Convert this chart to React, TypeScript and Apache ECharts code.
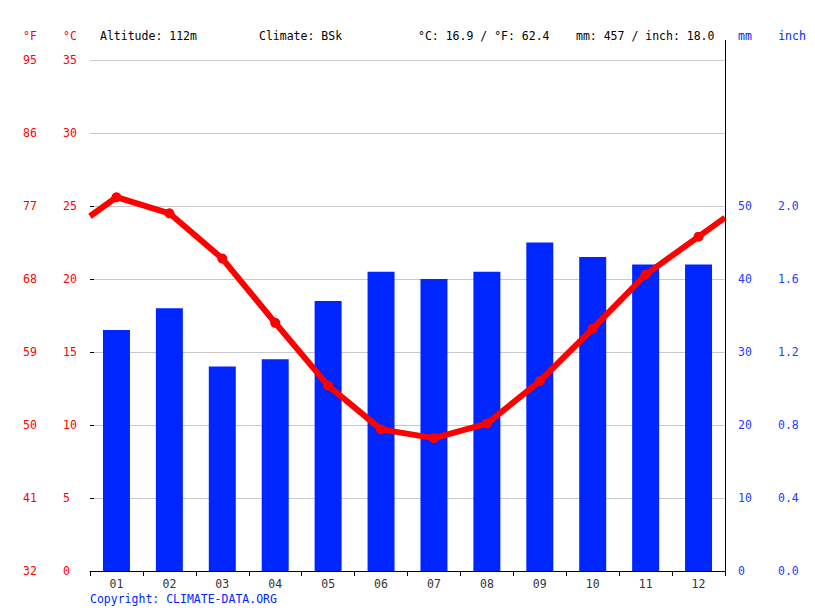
import React, { useEffect, useRef } from "react";
import * as echarts from "echarts";

const months = ["01", "02", "03", "04", "05", "06", "07", "08", "09", "10", "11", "12"];
const tempC = [25.6, 24.5, 21.4, 17.0, 12.7, 9.7, 9.1, 10.1, 13.0, 16.6, 20.3, 22.9];
const precipMm = [33, 36, 28, 29, 37, 41, 40, 41, 45, 43, 42, 42];
const edgeTempStart = 24.3;
const edgeTempEnd = 24.2;
const headerTexts = [
  { text: "Altitude: 112m", x: 100 },
  { text: "Climate: BSk", x: 259 },
  { text: "°C: 16.9 / °F: 62.4", x: 418 },
  { text: "mm: 457 / inch: 18.0", x: 576 },
];

const FONT = "'DejaVu Sans Mono', 'Liberation Mono', monospace";
const RED = "#ff0000";
const BLUE = "#0026ff";
const LBLUE = "#2040ff";

export default function App() {
  const ref = useRef<HTMLDivElement>(null);
  useEffect(() => {
    if (!ref.current) return;
    const chart = echarts.init(ref.current, undefined, { renderer: "svg" });
    const lineData: any[] = [{ value: [0, edgeTempStart], symbol: "none" }];
    tempC.forEach((t, i) => lineData.push({ value: [i + 0.5, t] }));
    lineData.push({ value: [months.length, edgeTempEnd], symbol: "none" });

    const option: any = {
      animation: false,
      textStyle: { fontFamily: FONT, fontSize: 11.5 },
      grid: [
        { left: 90, right: 90, top: 60, bottom: 40 },
        { left: 90, right: 90, top: 206, bottom: 40 },
      ],
      xAxis: [
        {
          type: "category",
          gridIndex: 0,
          data: months,
          boundaryGap: true,
          axisLine: { lineStyle: { color: "#000", width: 1 } },
          axisTick: { show: true, length: 5, lineStyle: { color: "#000" } },
          axisLabel: { color: "#333", fontFamily: FONT, fontSize: 11.5, margin: 7 },
        },
        { type: "value", gridIndex: 0, min: 0, max: 12, show: false },
        { type: "value", gridIndex: 1, min: 0, max: 1, show: false },
      ],
      yAxis: [
        {
          type: "value",
          gridIndex: 0,
          min: 0,
          max: 35,
          interval: 5,
          position: "left",
          axisLine: { show: false },
          axisTick: { show: false },
          splitLine: { show: true, lineStyle: { color: "#c8c8c8", width: 1 } },
          axisLabel: { color: RED, fontFamily: FONT, fontSize: 11.5, align: "left", margin: 27 },
        },
        {
          type: "value",
          gridIndex: 0,
          min: 32,
          max: 95,
          interval: 9,
          position: "left",
          axisLine: { show: false },
          axisTick: { show: false },
          splitLine: { show: false },
          axisLabel: { color: RED, fontFamily: FONT, fontSize: 11.5, align: "left", margin: 67 },
        },
        {
          type: "value",
          gridIndex: 0,
          min: 0,
          max: 70,
          interval: 10,
          position: "right",
          show: false,
        },
        {
          type: "value",
          gridIndex: 1,
          min: 0,
          max: 50,
          interval: 10,
          position: "right",
          axisLine: { show: false },
          axisTick: { show: true, inside: false, length: 4, lineStyle: { color: "#000" } },
          splitLine: { show: false },
          axisLabel: { color: LBLUE, fontFamily: FONT, fontSize: 11.5, align: "left", margin: 13 },
        },
        {
          type: "value",
          gridIndex: 1,
          min: 0,
          max: 2.0,
          interval: 0.4,
          position: "right",
          axisLine: { show: false },
          axisTick: { show: false },
          splitLine: { show: false },
          axisLabel: {
            color: LBLUE,
            fontFamily: FONT,
            fontSize: 11.5,
            align: "left",
            margin: 53,
            formatter: (v: number) => v.toFixed(1),
          },
        },
      ],
      graphic: [
        {
          type: "line",
          shape: { x1: 725.5, y1: 40, x2: 725.5, y2: 571 },
          style: { stroke: "#000", lineWidth: 1 },
          z: 10,
        },
        { type: "text", x: 30, y: 36, style: { text: "°F", fill: RED, font: `11.5px ${FONT}`, textAlign: "center", textVerticalAlign: "middle" } },
        { type: "text", x: 70, y: 36, style: { text: "°C", fill: RED, font: `11.5px ${FONT}`, textAlign: "center", textVerticalAlign: "middle" } },
        { type: "text", x: 745, y: 36, style: { text: "mm", fill: BLUE, font: `11.5px ${FONT}`, textAlign: "center", textVerticalAlign: "middle" } },
        { type: "text", x: 792, y: 36, style: { text: "inch", fill: BLUE, font: `11.5px ${FONT}`, textAlign: "center", textVerticalAlign: "middle" } },
        ...headerTexts.map((h) => ({
          type: "text",
          x: h.x,
          y: 36,
          style: { text: h.text, fill: "#000", font: `11.5px ${FONT}`, textAlign: "left", textVerticalAlign: "middle" },
        })),
        {
          type: "text",
          x: 90,
          y: 599,
          style: { text: "Copyright: CLIMATE-DATA.ORG", fill: BLUE, font: `11.5px ${FONT}`, textAlign: "left", textVerticalAlign: "middle" },
        },
      ],
      series: [
        {
          type: "bar",
          xAxisIndex: 0,
          yAxisIndex: 2,
          data: precipMm,
          barWidth: "51%",
          itemStyle: { color: BLUE },
          z: 2,
        },
        {
          type: "line",
          xAxisIndex: 1,
          yAxisIndex: 0,
          data: lineData,
          symbol: "circle",
          symbolSize: 10,
          lineStyle: { color: RED, width: 6 },
          itemStyle: { color: RED },
          z: 5,
        },
      ],
    };
    chart.setOption(option);
    return () => chart.dispose();
  }, []);
  return (
    <div
      ref={ref}
      style={{ position: "absolute", left: 0, top: 0, width: 815, height: 611, background: "#fff" }}
    />
  );
}
